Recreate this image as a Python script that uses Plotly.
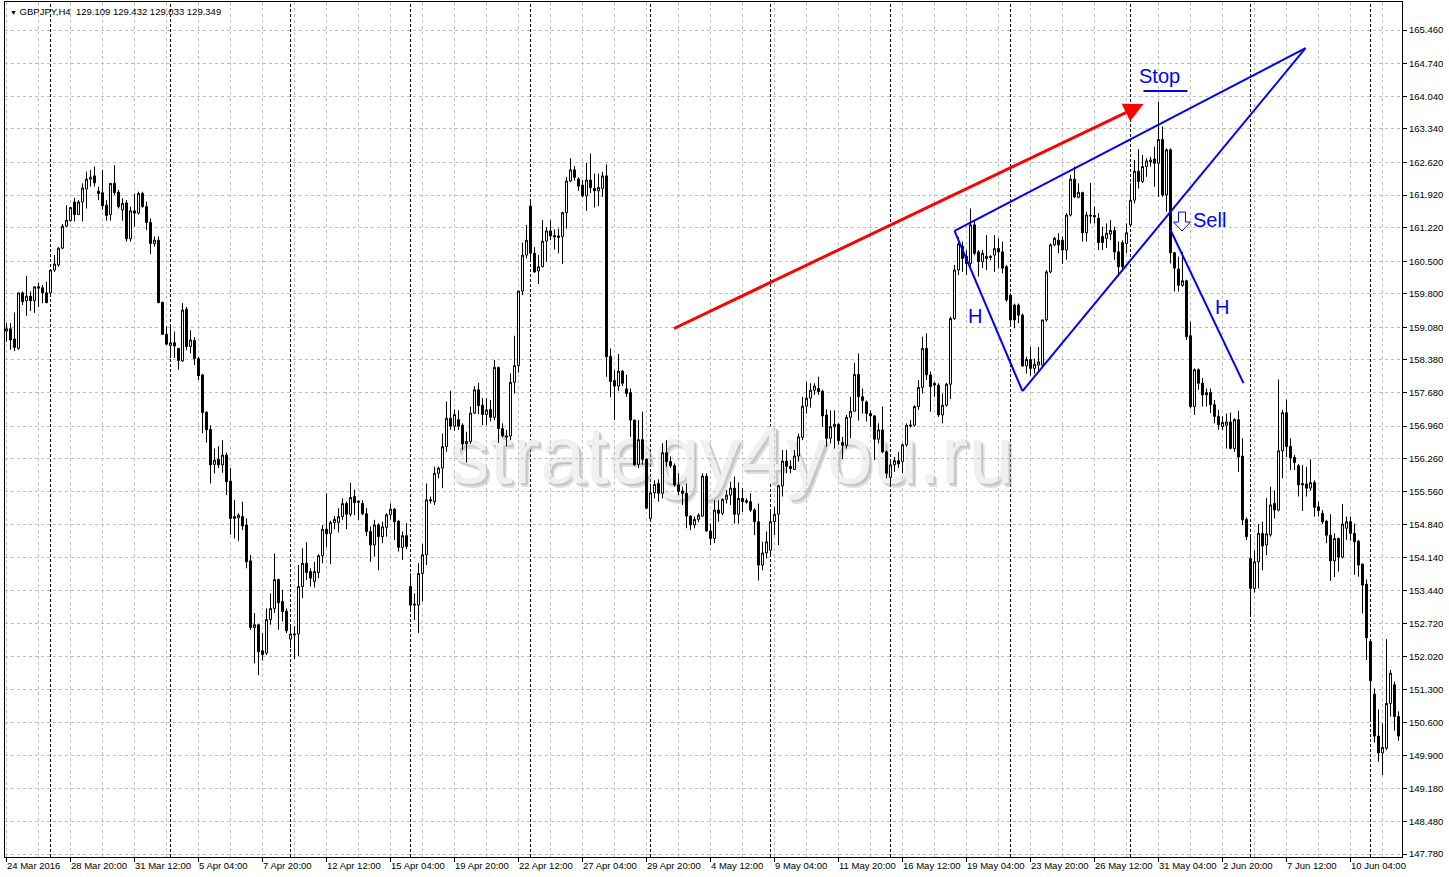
import plotly.graph_objects as go

# ---------------- data ----------------
open_ = [159.00,159.05,158.83,158.63,159.82,159.65,159.75,159.65,159.92,159.93,159.82,159.82,160.31,160.42,160.78,161.25,161.37,161.77,161.50,161.77,
162.05,162.26,162.33,162.00,161.97,161.70,161.50,162.17,161.98,161.60,161.75,160.98,161.58,161.53,161.95,161.67,161.33,160.88,160.95,159.62,
158.93,158.69,158.75,158.63,158.36,159.47,158.67,158.80,158.41,158.06,157.26,156.89,156.14,156.25,156.13,156.34,155.78,154.98,154.99,155.02,
154.84,154.07,152.64,152.70,152.14,152.09,152.81,153.05,153.67,153.20,152.99,152.39,152.48,152.50,153.52,154.02,153.84,153.63,153.82,154.18,
154.75,154.66,154.89,154.89,155.02,155.30,155.07,155.45,155.35,155.30,155.08,154.70,154.41,154.84,154.59,154.79,155.06,155.18,154.92,154.36,
154.61,153.52,153.12,153.12,153.80,154.20,155.38,155.34,155.95,156.06,156.52,157.13,156.96,157.10,156.98,156.58,156.63,157.24,157.74,157.41,
157.21,157.32,157.15,158.22,156.91,156.75,156.75,157.90,158.26,159.86,160.63,161.68,160.67,160.29,160.38,160.93,161.15,161.05,161.01,161.03,
161.54,162.22,162.46,162.26,162.13,161.90,162.24,162.06,162.01,162.06,162.33,158.46,157.94,157.82,158.14,157.76,157.68,157.09,156.14,156.67,
156.25,154.98,155.53,155.73,155.52,156.39,156.20,156.11,155.70,155.57,155.52,155.03,154.84,154.96,155.03,155.89,154.71,154.55,155.16,155.09,
155.39,155.48,155.63,155.07,155.41,155.36,155.34,155.16,154.91,153.98,154.24,154.30,154.91,155.07,155.68,156.21,156.10,156.03,156.32,156.72,
157.39,157.56,157.73,157.77,157.71,157.20,156.70,156.95,157.00,156.61,156.55,157.15,157.28,158.07,157.59,157.48,157.23,157.18,156.68,156.88,
156.41,155.86,156.13,156.22,156.20,156.56,156.96,156.98,157.38,157.79,158.63,158.06,157.84,157.84,157.20,157.41,157.86,159.27,160.31,160.82,
160.60,160.45,161.28,160.70,160.49,160.60,160.60,160.63,160.77,160.70,160.38,159.77,159.56,159.56,159.34,158.25,158.39,158.20,158.27,158.27,
159.24,160.27,160.85,160.95,160.95,160.74,161.49,162.26,161.87,161.97,161.11,161.49,161.48,161.42,161.03,160.99,161.08,161.16,160.70,160.90,
160.88,161.28,161.81,162.43,162.21,162.53,162.63,162.69,162.60,163.11,161.92,162.89,160.68,160.33,159.98,160.08,158.90,157.38,158.17,157.88,
157.63,157.68,157.42,157.17,156.95,156.98,157.05,156.48,157.10,156.32,154.96,154.12,153.48,154.05,154.66,154.41,154.63,155.30,155.16,156.43,
157.25,156.53,156.29,156.11,155.73,155.72,155.63,155.75,155.23,155.09,154.92,154.62,154.07,154.55,154.15,154.77,154.91,154.66,154.49,154.00,
153.57,152.34,151.21,150.31,149.95,150.05,151.01,151.41,150.73]

high_ = [159.17,159.17,159.40,159.82,159.85,160.18,159.85,159.96,160.04,159.99,160.06,160.32,160.63,160.80,161.30,161.70,161.66,161.86,161.81,162.17,
162.42,162.46,162.53,162.10,162.46,161.81,162.17,162.56,162.03,161.85,161.81,161.67,161.95,161.99,161.99,161.78,161.42,161.03,161.03,159.62,
159.10,159.10,158.99,158.63,159.60,159.52,159.02,158.87,158.44,158.08,157.28,156.98,156.48,156.53,156.66,156.39,156.06,155.38,155.09,155.34,
154.98,154.20,152.95,152.70,152.52,153.05,153.37,154.23,153.69,153.45,153.05,152.66,152.67,153.98,154.34,154.47,153.91,154.05,154.21,154.84,
155.52,154.93,155.03,155.20,155.41,155.34,155.75,155.60,155.37,155.37,155.20,154.81,154.95,154.88,154.91,155.09,155.30,155.20,154.95,154.70,
154.88,153.80,153.37,154.02,154.43,155.73,155.45,156.09,156.09,156.80,157.49,157.72,157.32,157.30,157.02,156.84,157.38,157.82,157.89,157.56,
157.56,157.52,158.38,158.24,157.02,156.88,158.09,158.90,159.86,160.90,161.28,161.81,160.80,160.63,161.38,161.23,161.38,161.18,161.20,161.56,
162.31,162.71,162.54,162.30,162.24,162.61,162.81,162.38,162.38,162.42,162.58,158.63,158.16,158.51,158.16,158.06,157.77,157.10,157.09,157.27,
156.27,155.73,155.80,155.82,156.59,156.66,156.31,156.16,155.95,155.66,155.73,155.05,155.02,155.09,155.95,155.95,154.87,155.37,155.37,155.41,
155.59,155.77,155.88,155.75,155.63,155.41,155.52,155.20,155.30,154.48,154.70,155.12,155.23,155.70,156.45,156.45,156.23,156.45,156.80,157.59,
157.91,157.88,157.88,158.02,157.74,157.32,157.30,157.30,157.02,156.73,157.20,157.59,158.32,158.52,157.77,157.51,157.30,157.20,157.02,157.38,
156.44,156.23,156.30,156.41,156.59,157.02,157.09,157.41,157.95,158.88,158.95,158.13,157.91,157.88,157.66,157.89,159.31,160.42,161.02,160.92,
160.74,161.63,161.38,160.74,160.74,161.06,160.63,161.06,160.99,160.92,160.42,159.81,159.59,159.59,159.38,158.45,158.66,158.41,158.66,159.24,
160.31,160.88,161.02,161.10,161.03,161.53,162.35,162.53,162.17,161.99,161.56,162.18,161.67,161.53,161.24,161.31,161.38,161.24,160.92,160.95,
161.31,162.17,162.67,162.90,162.78,162.71,162.74,162.96,163.92,163.39,162.92,162.92,160.70,160.60,160.70,160.10,159.20,158.20,158.20,157.99,
157.77,157.77,157.52,157.31,157.17,157.23,157.25,157.13,157.29,156.70,155.00,154.59,154.29,154.86,154.91,155.42,155.66,155.58,157.96,157.31,
157.53,156.70,156.34,156.15,156.13,156.09,156.25,155.80,155.34,155.16,154.95,155.07,154.66,154.57,155.29,155.02,155.02,154.87,154.52,154.01,
153.67,152.37,151.33,150.88,150.58,152.39,151.73,151.48,150.84]

low_ = [158.77,158.60,158.57,158.60,159.56,159.33,159.43,159.39,159.52,159.60,159.60,159.80,160.27,160.38,160.76,161.24,161.35,161.35,161.50,161.35,
161.63,162.10,162.10,161.81,161.60,161.37,161.37,161.92,161.63,161.37,160.92,160.92,161.24,161.50,161.65,161.17,160.65,160.81,159.60,158.93,
158.70,158.42,158.42,158.17,158.34,158.59,158.52,158.27,157.95,156.81,156.61,155.73,155.95,156.06,155.96,155.48,154.63,154.55,154.50,154.73,
153.91,152.59,151.87,151.62,151.93,152.05,152.70,152.95,152.59,152.77,152.52,152.20,151.96,152.02,153.27,153.66,153.52,153.50,153.70,154.02,
154.36,154.00,154.75,154.68,154.95,154.75,155.02,155.05,154.95,155.05,154.60,154.05,154.16,153.87,154.45,154.59,154.95,154.52,154.27,154.09,
154.32,152.98,152.80,152.52,153.20,153.98,155.30,155.27,155.84,155.63,156.41,156.88,156.86,156.88,156.45,156.18,156.58,157.22,157.22,156.98,
156.98,157.06,157.09,156.60,156.72,156.53,156.66,157.66,158.11,159.77,160.56,160.49,160.25,160.01,160.37,160.49,160.95,160.75,160.67,160.44,
161.20,162.20,162.23,162.01,161.87,161.58,161.96,161.65,161.68,161.88,158.02,157.58,157.09,157.72,157.82,157.59,156.73,156.11,156.06,156.13,
155.18,154.95,155.41,155.34,155.41,156.09,156.06,155.66,155.48,155.27,154.77,154.73,154.77,154.90,155.02,154.70,154.41,154.45,154.91,155.05,
155.30,155.27,154.87,154.87,155.12,155.30,155.12,154.62,153.65,153.87,154.12,154.16,154.62,154.41,155.45,155.95,155.95,156.02,156.20,156.66,
157.23,157.36,157.63,157.63,156.95,156.52,156.59,156.48,156.56,156.25,156.48,156.70,157.27,157.08,157.23,157.06,156.95,156.23,156.59,156.38,
155.84,155.66,155.98,156.06,155.95,156.52,156.93,156.95,157.31,157.66,157.95,157.27,157.59,157.16,157.02,157.38,157.54,159.24,160.20,160.27,
160.20,160.35,160.63,160.17,160.35,160.31,160.52,160.27,160.35,160.24,159.63,159.13,159.06,159.17,158.24,158.09,158.04,158.09,158.13,158.24,
159.20,160.24,160.82,160.67,160.44,160.53,161.46,161.85,161.85,160.92,160.92,161.31,161.31,160.74,160.74,160.78,160.95,160.53,160.17,160.28,
160.67,161.24,161.74,162.06,162.18,162.31,162.53,162.10,161.88,161.88,161.56,160.45,159.85,159.85,159.95,158.81,157.34,157.20,157.74,157.38,
157.38,157.24,157.02,156.88,156.88,156.48,156.46,156.41,155.98,154.84,154.52,152.91,153.39,153.48,153.87,154.19,154.59,154.98,155.13,155.84,
156.30,156.02,156.02,155.45,155.14,155.45,155.57,155.02,155.02,154.86,154.45,153.64,153.72,153.84,154.12,154.52,154.50,153.77,153.73,152.94,
151.94,150.66,150.17,149.76,149.47,150.01,150.73,150.43,150.21]

close_ = [159.05,158.81,158.65,159.82,159.63,159.75,159.65,159.95,159.95,159.82,159.61,160.31,160.44,160.78,161.25,161.38,161.65,161.50,161.77,162.07,
162.26,162.30,162.18,161.95,161.69,161.48,162.17,161.97,161.67,161.74,160.98,161.58,161.53,161.95,161.67,161.33,160.88,160.95,159.61,158.93,
158.72,158.75,158.68,158.37,159.45,158.67,158.81,158.41,158.04,157.25,156.88,156.13,156.23,156.13,156.34,155.77,154.98,155.02,155.05,154.82,
154.05,152.64,152.70,152.12,152.06,152.81,153.05,153.67,153.17,152.98,152.57,152.50,152.50,153.52,154.02,153.82,153.70,153.84,154.18,154.75,
154.65,154.89,154.96,155.02,155.30,155.07,155.43,155.32,155.33,155.08,154.70,154.41,154.84,154.59,154.80,155.06,155.18,154.91,154.36,154.61,
154.38,153.12,153.14,153.80,154.20,155.38,155.36,155.95,156.06,156.52,157.13,156.96,157.21,156.96,156.58,156.63,157.24,157.74,157.40,157.21,
157.31,157.15,158.22,156.91,156.75,156.73,157.90,158.26,159.86,160.63,160.95,160.67,160.27,160.38,160.93,161.15,161.04,161.02,161.04,161.54,
162.22,162.46,162.30,162.11,161.90,162.24,162.08,162.01,162.08,162.33,158.45,157.92,157.82,158.14,157.88,157.66,157.09,156.13,156.67,156.25,
155.20,155.53,155.71,155.52,156.39,156.20,156.11,155.70,155.56,155.52,155.03,154.84,154.96,155.05,155.89,154.71,154.55,155.16,155.09,155.39,
155.48,155.63,155.07,155.41,155.34,155.33,155.16,154.91,153.98,154.24,154.48,154.91,155.07,155.68,156.21,156.10,156.05,156.32,156.73,157.39,
157.56,157.73,157.82,157.70,157.18,156.70,156.95,157.00,156.65,156.55,157.15,157.28,158.07,157.59,157.51,157.23,157.18,156.68,156.88,156.41,
155.95,156.13,156.22,156.15,156.56,156.98,156.98,157.38,157.79,158.63,158.06,157.81,157.88,157.20,157.41,157.86,159.27,160.31,160.87,160.56,
160.45,161.28,160.67,160.49,160.67,160.56,160.58,160.77,160.70,160.35,159.67,159.24,159.24,159.34,158.25,158.39,158.20,158.29,158.34,159.24,
160.27,160.85,160.99,160.85,160.74,161.49,162.26,161.88,161.98,161.11,161.49,161.47,161.45,160.90,160.90,161.10,161.16,160.70,160.38,160.38,
161.11,161.81,162.43,162.21,162.53,162.65,162.67,162.60,163.11,161.92,162.89,160.68,160.35,159.98,160.08,158.88,157.38,158.17,157.88,157.63,
157.68,157.42,157.17,156.99,157.04,157.05,156.48,157.10,156.30,154.95,154.59,153.48,154.05,154.66,154.39,154.65,155.27,155.16,156.43,157.25,
156.52,156.28,156.18,155.70,155.70,155.63,155.75,155.22,155.15,154.91,154.62,154.07,154.55,154.15,154.86,154.91,154.66,154.48,153.98,153.55,
152.42,151.50,150.31,149.95,150.07,151.01,151.66,150.73,150.31]

price_ticks = [165.460,164.740,164.040,163.340,162.620,161.920,161.220,160.500,159.800,159.080,158.380,157.680,156.960,
               156.260,155.560,154.840,154.140,153.440,152.720,152.020,151.300,150.600,149.900,149.180,148.480,147.780]

date_labels = ["24 Mar 2016","28 Mar 20:00","31 Mar 12:00","5 Apr 04:00","7 Apr 20:00","12 Apr 12:00","15 Apr 04:00",
               "19 Apr 20:00","22 Apr 12:00","27 Apr 04:00","29 Apr 20:00","4 May 12:00","9 May 04:00","11 May 20:00",
               "16 May 12:00","19 May 04:00","23 May 20:00","26 May 12:00","31 May 04:00","2 Jun 20:00","7 Jun 12:00","10 Jun 04:00"]
bars_per_label = 16
week_start_bars = [11, 41, 71, 101, 131, 161, 191, 221, 251, 281, 311, 341]

header_text = "GBPJPY,H4\u00a0\u00a0129.109 129.432 129.033 129.349"
watermark = "strategy4you.ru"

# drawn objects (bar index, price)
red_arrow = dict(x0=166.5, y0=159.04, x1=284.25, y1=163.87)
blue_lines = [
    (237.0, 161.15, 324.75, 165.07),   # upper wedge line
    (254.0, 157.71, 324.75, 165.07),   # lower wedge line
    (237.0, 161.15, 254.0, 157.71),    # left H leg
    (291.0, 161.17, 309.25, 157.885),  # right H leg
    (284.25, 164.15, 295.25, 164.15),  # stop level
]
labels = [("Stop", 288.25, 164.47, "center"), ("H", 242.0, 159.32, "center"),
          ("H", 303.75, 159.52, "center"), ("Sell", 296.0, 161.39, "left")]
# hollow "sell" arrow outline (bar index, price)
sell_arrow_x = [293.0, 294.75, 294.75, 296.0, 293.875, 291.75, 293.0]
sell_arrow_y = [161.554, 161.554, 161.34, 161.34, 161.147, 161.34, 161.34]

# ---------------- figure ----------------
n = len(close_)
xs = list(range(n))
hi = [max(h, o, c) for h, o, c in zip(high_, open_, close_)]
lo = [min(l, o, c) for l, o, c in zip(low_, open_, close_)]

FONT = "Liberation Sans"
fig = go.Figure()
fig.add_trace(go.Candlestick(
    x=xs, open=open_, high=hi, low=lo, close=close_,
    increasing=dict(line=dict(color="black", width=1), fillcolor="white"),
    decreasing=dict(line=dict(color="black", width=1), fillcolor="black"),
    whiskerwidth=0, hoverinfo="skip", showlegend=False))

shapes = []
# weekly separators
for b in week_start_bars:
    shapes.append(dict(type="line", xref="x", yref="paper", x0=b, x1=b, y0=0, y1=1,
                       line=dict(color="black", width=1, dash="3px,2px"), layer="below"))
# watermark (shadow + fill)
wx0, wx1, wy0, wy1 = 0.30, 0.74, 0.44, 0.52
for dx, dy, col in [(0.0025, -0.0040, "rgba(150,150,150,0.30)"),
                    (0.0015, -0.0025, "rgba(160,160,160,0.40)"),
                    (0.0, 0.0, "rgba(240,240,240,1)")]:
    shapes.append(dict(type="rect", xref="paper", yref="paper",
                       x0=wx0 + dx, x1=wx1 + dx, y0=wy0 + dy, y1=wy1 + dy,
                       line=dict(width=0), fillcolor="rgba(0,0,0,0)", layer="below",
                       label=dict(text=watermark, textposition="middle center",
                                  font=dict(family=FONT, size=82, color=col))))
for (a, b, c, d) in blue_lines:
    shapes.append(dict(type="line", xref="x", yref="y", x0=a, y0=b, x1=c, y1=d,
                       line=dict(color="#0000ff", width=2)))
path = "M " + " L ".join(f"{x},{y}" for x, y in zip(sell_arrow_x, sell_arrow_y)) + " Z"
shapes.append(dict(type="path", xref="x", yref="y", path=path,
                   line=dict(color="#0000ff", width=1), fillcolor="white"))

annotations = []
annotations.append(dict(x=red_arrow["x1"], y=red_arrow["y1"], ax=red_arrow["x0"], ay=red_arrow["y0"],
                        xref="x", yref="y", axref="x", ayref="y", text="", showarrow=True,
                        arrowhead=2, arrowsize=1.3, arrowwidth=3, arrowcolor="#ff0000", standoff=0))
for t, x, y, anc in labels:
    annotations.append(dict(x=x, y=y, xref="x", yref="y", text=t, showarrow=False, xanchor=anc,
                            font=dict(family=FONT, size=20, color="#0000ff")))
for k, lab in enumerate(date_labels):
    annotations.append(dict(x=k * bars_per_label, y=0, xref="x", yref="paper", text=lab, showarrow=False,
                            xanchor="left", yanchor="top", xshift=-2, yshift=-1,
                            font=dict(family=FONT, size=9.5, color="black")))
annotations.append(dict(x=0, y=1, xref="paper", yref="paper", xanchor="left", yanchor="top",
                        text="<span style='font-size:7px'>\u25bc</span> " + header_text,
                        showarrow=False, xshift=3, yshift=-2,
                        font=dict(family=FONT, size=9.5, color="black")))

grid = dict(showgrid=True, gridcolor="#c0c0c0", gridwidth=1, griddash="3px,3px")
fig.update_layout(
    width=1449, height=877, margin=dict(l=5, r=47, t=2, b=20),
    paper_bgcolor="white", plot_bgcolor="white", showlegend=False,
    shapes=shapes, annotations=annotations, hovermode=False,
    boxgap=0.3, boxgroupgap=0.3,
    xaxis=dict(range=[-0.375, 348.875], rangeslider=dict(visible=False), zeroline=False,
               tickvals=[k * bars_per_label for k in range(len(date_labels))],
               showticklabels=False, ticks="outside", ticklen=4, tickcolor="black",
               showline=True, mirror=True, linecolor="black", linewidth=1,
               minor=dict(tickvals=[k * bars_per_label + 8 for k in range(len(date_labels))],
                          showgrid=True, gridcolor="#c0c0c0", griddash="3px,3px", ticks=""),
               **grid),
    yaxis=dict(side="right", range=[147.716, 166.061], zeroline=False,
               tickvals=price_ticks, ticktext=[f"{p:.3f}" for p in price_ticks],
               ticks="outside", ticklen=4, tickcolor="black",
               tickfont=dict(family=FONT, size=9.5, color="black"),
               showline=True, mirror=True, linecolor="black", linewidth=1, **grid),
)
fig.write_html("out.html", config={"displayModeBar": False},
               post_script="document.body.style.margin='0';document.body.style.overflow='hidden';")
